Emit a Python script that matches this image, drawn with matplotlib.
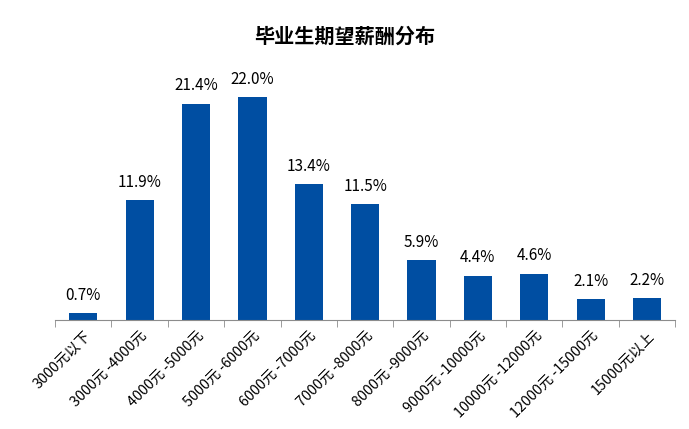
import matplotlib
matplotlib.use('Agg')
import matplotlib.pyplot as plt
import numpy as np

plt.rcParams['font.family'] = ['Noto Sans CJK SC', 'DejaVu Sans']

# data
categories = ['3000元以下', '3000元 -4000元', '4000元 -5000元', '5000元 -6000元',
              '6000元 -7000元', '7000元 -8000元', '8000元 -9000元', '9000元 -10000元',
              '10000元 -12000元', '12000元 -15000元', '15000元以上']
values = [0.7, 11.9, 21.4, 22.0, 13.4, 11.5, 5.9, 4.4, 4.6, 2.1, 2.2]
title = '毕业生期望薪酬分布'

bar_color = '#004EA2'
axis_color = '#8C8C8C'

fig = plt.figure(figsize=(6.89, 4.29), dpi=100)
ax = fig.add_axes([0.080, 0.254, 0.900, 0.606])

x = np.arange(len(categories))
bars = ax.bar(x, values, width=0.5, color=bar_color)

for xi, v in zip(x, values):
    ax.text(xi, v + 0.9, f'{v:.1f}%', ha='center', va='bottom', fontsize=11)

ax.set_xlim(-0.5, len(categories) - 0.5)
ax.set_ylim(0, 25.7)

# ticks sit between categories
ax.set_xticks(x)
ax.set_xticklabels(categories, rotation=45, ha='right', rotation_mode='anchor', fontsize=10.3)
ax.tick_params(axis='x', which='major', length=0, pad=6)
ax.set_xticks(np.arange(-0.5, len(categories)), minor=True)
ax.tick_params(axis='x', which='minor', length=5, color=axis_color, direction='out')
ax.set_yticks([])

for side in ['top', 'right', 'left']:
    ax.spines[side].set_visible(False)
ax.spines['bottom'].set_color(axis_color)

fig.suptitle(title, x=0.5, y=0.94, fontsize=14.5, fontweight='bold')

fig.savefig('out.png', dpi=100)
